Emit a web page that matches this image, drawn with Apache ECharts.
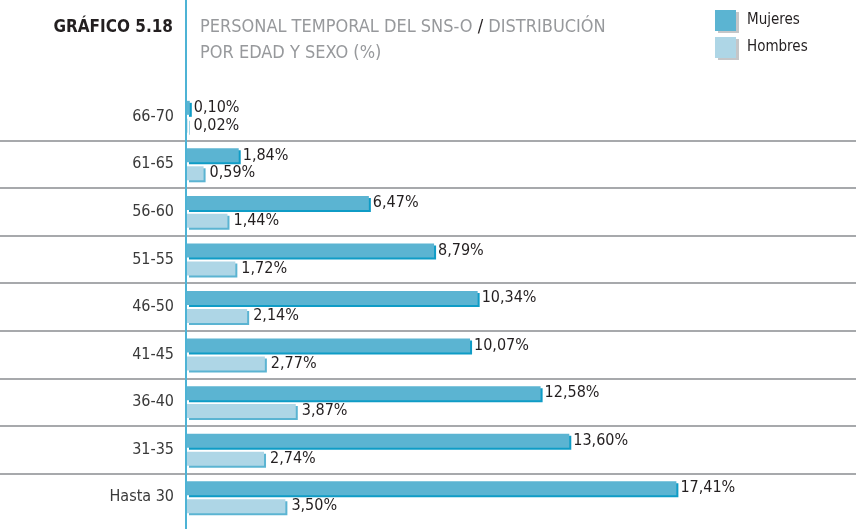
<!DOCTYPE html>
<html>
<head>
<meta charset="utf-8">
<script src="https://cdn.jsdelivr.net/npm/echarts@6/dist/echarts.min.js"></script>
<style>
    html, body { margin: 0; padding: 0; background: #fff; }
    #chart { width: 856px; height: 529px; }
</style>
</head>
<body>
<div id="chart"></div>
<script>
// datos del gráfico 5.18
var ageGroups = ['66-70', '61-65', '56-60', '51-55', '46-50', '41-45', '36-40', '31-35', 'Hasta 30'];
var mujeres = [0.10, 1.84, 6.47, 8.79, 10.34, 10.07, 12.58, 13.60, 17.41];
var hombres = [0.02, 0.59, 1.44, 1.72, 2.14, 2.77, 3.87, 2.74, 3.50];

var FONT = '"Liberation Sans Narrow", "DejaVu Sans Condensed", sans-serif';
var DARK = '#231f20';

function pct(p) {
    return p.value.toFixed(2).replace('.', ',') + '%';
}

var chart = echarts.init(document.getElementById('chart'));

var option = {
    animation: false,
    backgroundColor: '#fff',
    title: [
        {
            text: 'GRÁFICO 5.18',
            right: 678,
            top: 14,
            textStyle: { fontFamily: FONT, fontSize: 17, fontWeight: 'bold', color: DARK }
        },
        {
            text: '{g|PERSONAL TEMPORAL DEL SNS-O }{d|/}{g| DISTRIBUCIÓN}\n{g|POR EDAD Y SEXO (%)}',
            left: 195,
            top: 9,
            textStyle: {
                fontFamily: FONT,
                fontSize: 18,
                fontWeight: 'normal',
                lineHeight: 26,
                rich: {
                    g: { fontFamily: FONT, fontSize: 18, fontWeight: 'normal', lineHeight: 26, color: '#97999c' },
                    d: { fontFamily: FONT, fontSize: 18, fontWeight: 'normal', lineHeight: 26, color: DARK }
                }
            }
        }
    ],
    legend: {
        orient: 'vertical',
        left: 710,
        top: 5,
        icon: 'rect',
        itemWidth: 21,
        itemHeight: 21,
        itemGap: 6,
        data: ['Mujeres', 'Hombres'],
        itemStyle: {
            shadowColor: '#c5c6c8',
            shadowOffsetX: 3,
            shadowOffsetY: 2,
            shadowBlur: 0
        },
        textStyle: { fontFamily: FONT, fontSize: 15, color: DARK, padding: [0, 0, 0, 6] }
    },
    grid: [
        { left: 187, right: 0, top: 93, bottom: 8 },
        { left: 0, right: 0, top: 93, bottom: 8 },
        { left: 186, right: 0, top: 0, bottom: 0 }
    ],
    xAxis: [
        { gridIndex: 0, type: 'value', min: 0, max: 23.8, show: false },
        { gridIndex: 1, type: 'value', min: 0, max: 1, show: false },
        { gridIndex: 2, type: 'value', min: 0, max: 1, show: false }
    ],
    yAxis: [
        {
            gridIndex: 0,
            type: 'category',
            inverse: true,
            data: ageGroups,
            axisLine: { show: false },
            axisTick: { show: false },
            axisLabel: { margin: 13, fontFamily: FONT, fontSize: 16, color: '#3a3a3a' }
        },
        {
            gridIndex: 1,
            type: 'value',
            min: 0,
            max: 9,
            interval: 1,
            axisLine: { show: false },
            axisTick: { show: false },
            axisLabel: { show: false },
            splitLine: {
                show: true,
                showMinLine: false,
                showMaxLine: false,
                lineStyle: { color: '#a7a9ac', width: 2 }
            }
        },
        {
            gridIndex: 2,
            type: 'value',
            min: 0,
            max: 1,
            z: 5,
            axisLine: { show: true, onZero: false, lineStyle: { color: '#4db3d5', width: 2 } },
            axisTick: { show: false },
            axisLabel: { show: false },
            splitLine: { show: false }
        }
    ],
    series: [
        {
            name: 'Mujeres',
            type: 'bar',
            xAxisIndex: 0,
            yAxisIndex: 0,
            data: mujeres,
            barWidth: 14,
            barGap: '28%',
            itemStyle: {
                color: '#5bb4d2',
                shadowColor: '#0f9cc6',
                shadowOffsetX: 2,
                shadowOffsetY: 2,
                shadowBlur: 0
            },
            label: {
                show: true,
                position: 'right',
                distance: 4,
                formatter: pct,
                fontFamily: FONT,
                fontSize: 16,
                color: DARK
            }
        },
        {
            name: 'Hombres',
            type: 'bar',
            xAxisIndex: 0,
            yAxisIndex: 0,
            data: hombres,
            barWidth: 14,
            itemStyle: {
                color: '#aed6e6',
                shadowColor: '#5bb4d2',
                shadowOffsetX: 2,
                shadowOffsetY: 2,
                shadowBlur: 0
            },
            label: {
                show: true,
                position: 'right',
                distance: 6,
                formatter: pct,
                fontFamily: FONT,
                fontSize: 16,
                color: DARK
            }
        }
    ]
};

chart.setOption(option);
</script>
</body>
</html>
